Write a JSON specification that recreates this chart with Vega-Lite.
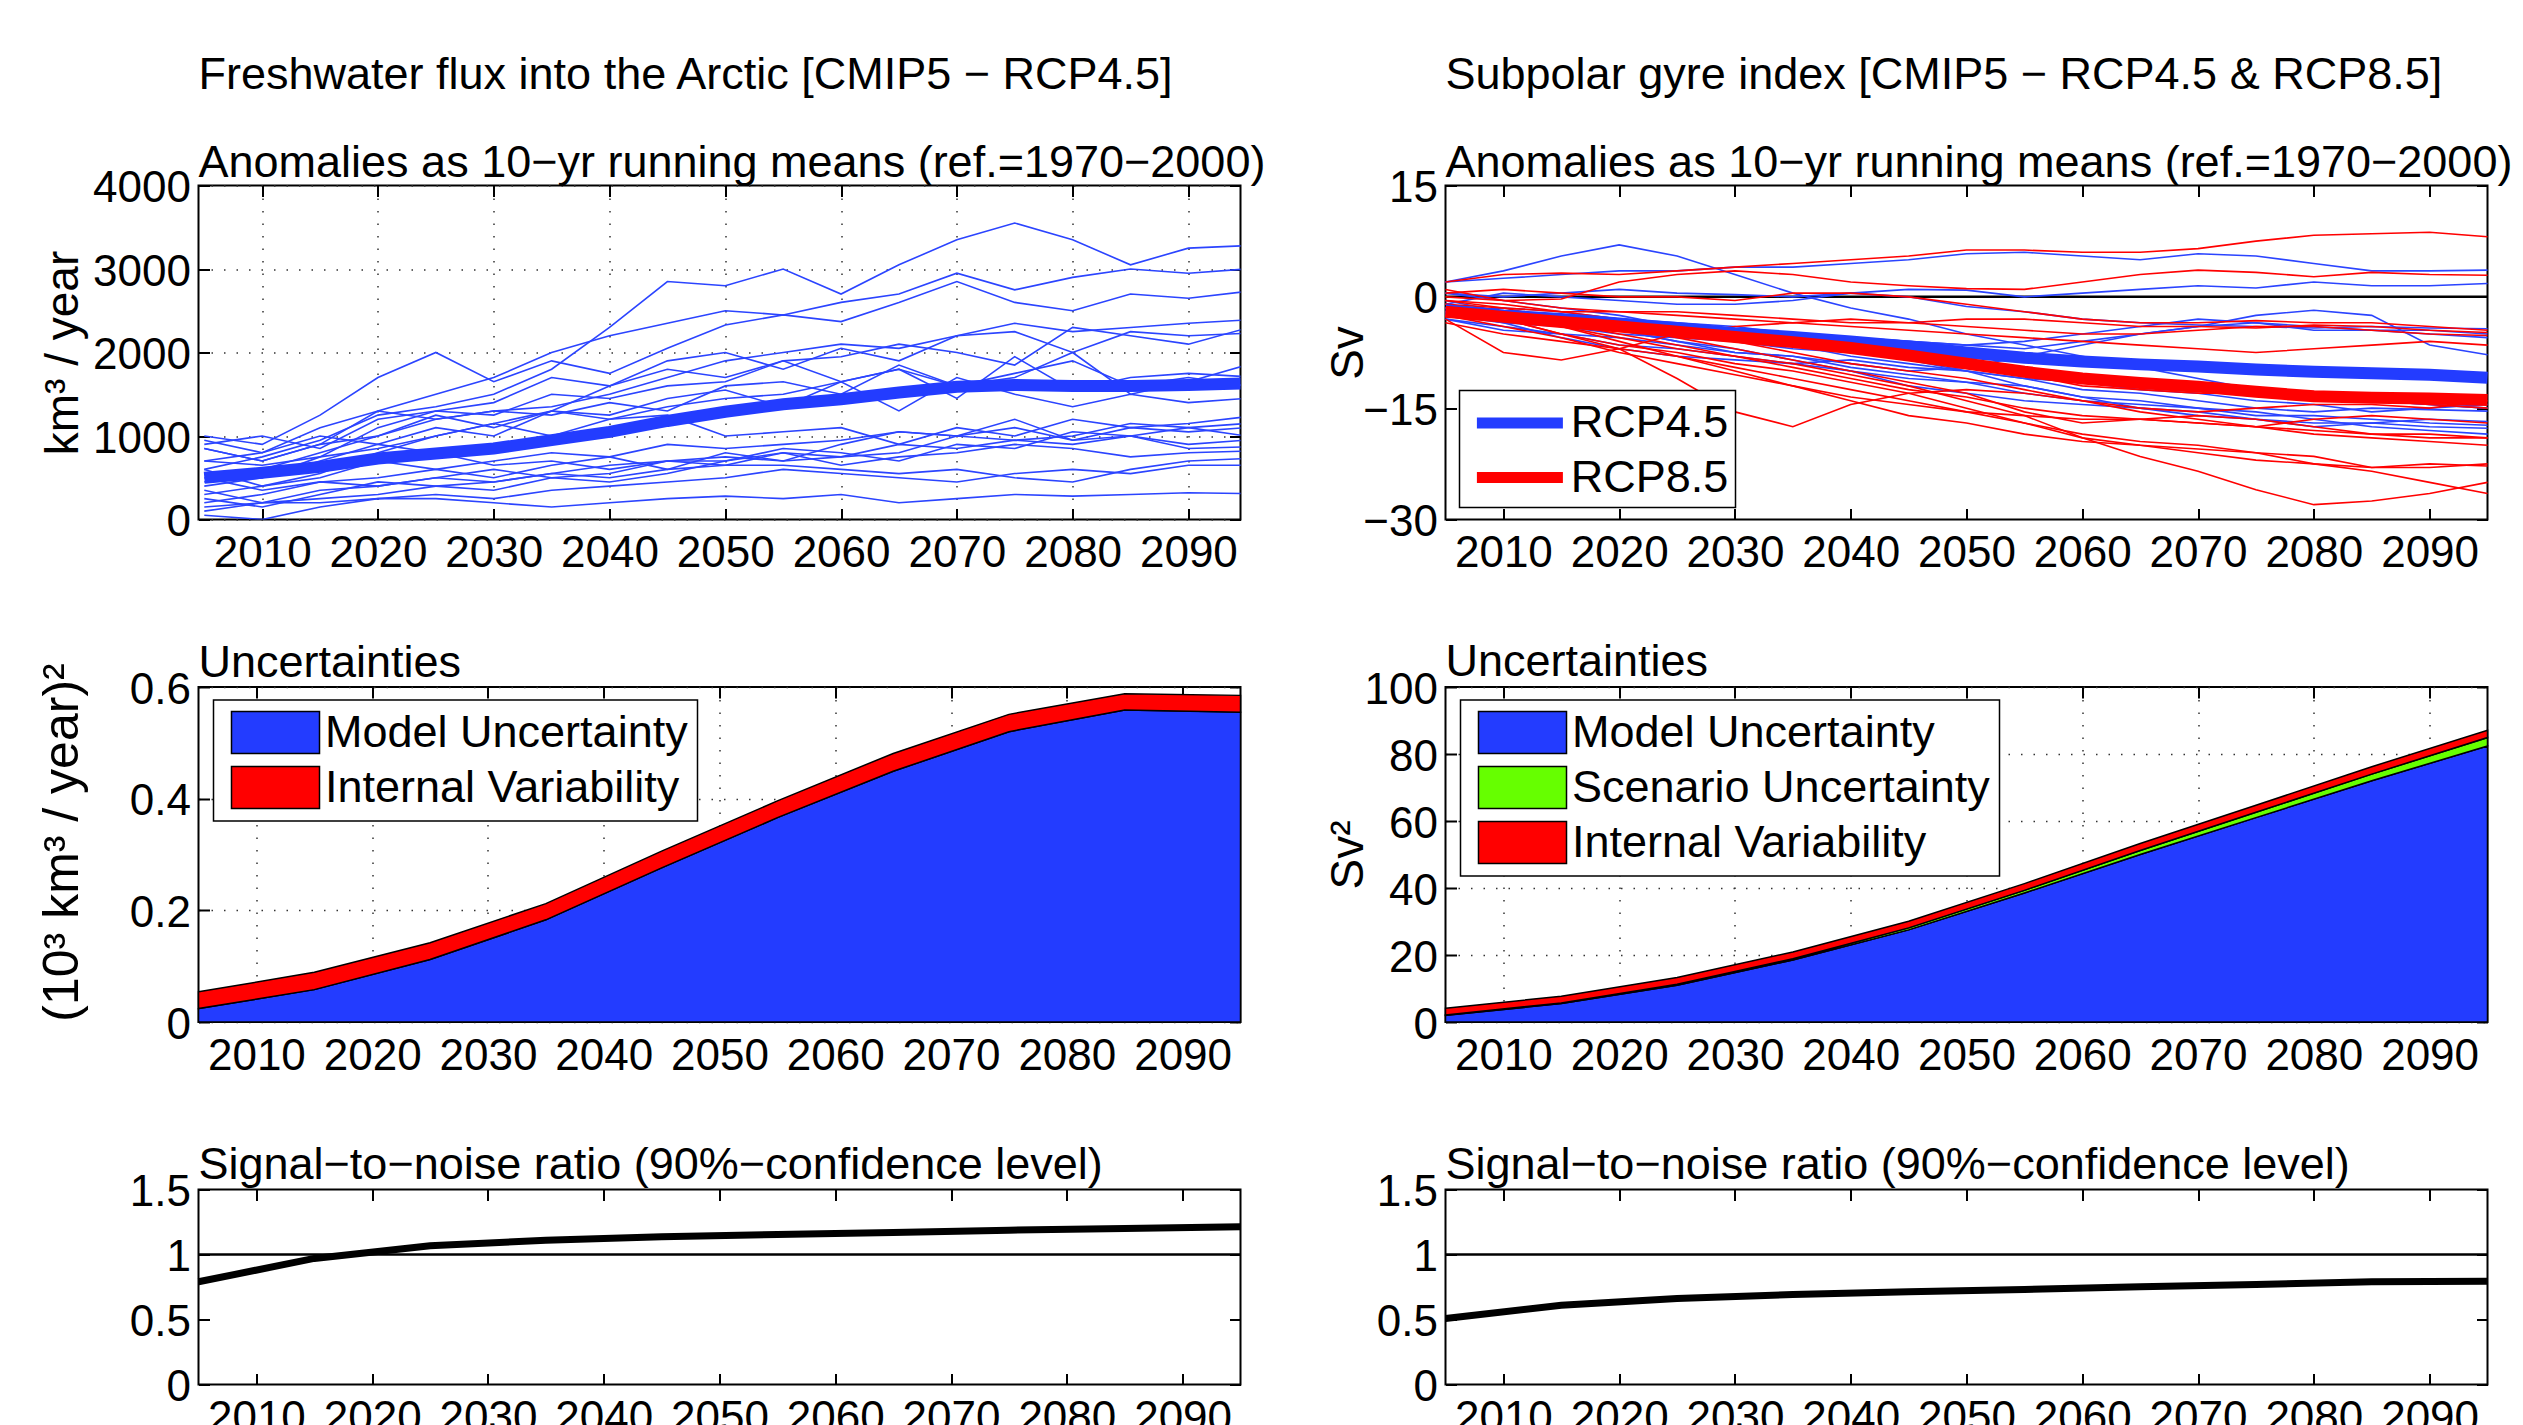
{
"$schema":"https://vega.github.io/schema/vega-lite/v6.json",
"background":"white",
"padding":{"left":36.5,"top":51.5,"right":0,"bottom":0},
"autosize":{"type":"pad"},
"columns":2,
"bounds":"flush",
"spacing":{"row":167.5,"column":205},
"resolve":{"scale":{"color":"independent"},"legend":{"color":"independent"}},
"config":{
 "font":"Liberation Sans",
 "view":{"stroke":"black","strokeWidth":2},
 "axis":{"labelFontSize":44,"labelColor":"black","titleFontSize":46,"titleFontWeight":"normal","titleColor":"black","domain":false,"tickColor":"black","tickWidth":2,"tickSize":-11,"grid":true,"gridColor":"#333333","gridWidth":1.5,"gridDash":[1.5,11],"gridOpacity":1,"labelFlush":false,"labelOverlap":false},
 "axisX":{"labelPadding":23},
 "axisY":{"labelPadding":19,"labelOffset":3},
 "title":{"fontSize":45,"fontWeight":"normal","color":"black","anchor":"start","frame":"group","subtitleFontSize":45,"subtitleColor":"black","subtitlePadding":42.5},
 "legend":{"labelFontSize":45,"labelColor":"black","labelLimit":2000,"strokeColor":"black","strokeWidth":1.5,"fillColor":"white"}
},
"datasets":{
"fw":[
{"m":"L1","t":2005,"v":600},{"m":"L1","t":2010,"v":750},{"m":"L1","t":2015,"v":950},{"m":"L1","t":2020,"v":1250},{"m":"L1","t":2025,"v":1350},{"m":"L1","t":2030,"v":1500},{"m":"L1","t":2035,"v":1800},{"m":"L1","t":2040,"v":2300},{"m":"L1","t":2045,"v":2850},{"m":"L1","t":2050,"v":2800},{"m":"L1","t":2055,"v":3000},{"m":"L1","t":2060,"v":2700},{"m":"L1","t":2065,"v":3050},{"m":"L1","t":2070,"v":3350},{"m":"L1","t":2075,"v":3550},{"m":"L1","t":2080,"v":3350},{"m":"L1","t":2085,"v":3050},{"m":"L1","t":2090,"v":3250},{"m":"L1","t":2095,"v":3280},
{"m":"L2","t":2005,"v":850},{"m":"L2","t":2010,"v":700},{"m":"L2","t":2015,"v":900},{"m":"L2","t":2020,"v":1300},{"m":"L2","t":2025,"v":1500},{"m":"L2","t":2030,"v":1700},{"m":"L2","t":2035,"v":2000},{"m":"L2","t":2040,"v":2200},{"m":"L2","t":2045,"v":2350},{"m":"L2","t":2050,"v":2500},{"m":"L2","t":2055,"v":2450},{"m":"L2","t":2060,"v":2600},{"m":"L2","t":2065,"v":2700},{"m":"L2","t":2070,"v":2950},{"m":"L2","t":2075,"v":2750},{"m":"L2","t":2080,"v":2900},{"m":"L2","t":2085,"v":3000},{"m":"L2","t":2090,"v":2950},{"m":"L2","t":2095,"v":3000},
{"m":"L3","t":2005,"v":1000},{"m":"L3","t":2010,"v":900},{"m":"L3","t":2015,"v":1250},{"m":"L3","t":2020,"v":1700},{"m":"L3","t":2025,"v":2000},{"m":"L3","t":2030,"v":1650},{"m":"L3","t":2035,"v":1900},{"m":"L3","t":2040,"v":1750},{"m":"L3","t":2045,"v":2050},{"m":"L3","t":2050,"v":2330},{"m":"L3","t":2055,"v":2450},{"m":"L3","t":2060,"v":2370},{"m":"L3","t":2065,"v":2600},{"m":"L3","t":2070,"v":2850},{"m":"L3","t":2075,"v":2600},{"m":"L3","t":2080,"v":2500},{"m":"L3","t":2085,"v":2700},{"m":"L3","t":2090,"v":2650},{"m":"L3","t":2095,"v":2730},
{"m":"L4","t":2005,"v":450},{"m":"L4","t":2010,"v":600},{"m":"L4","t":2015,"v":800},{"m":"L4","t":2020,"v":1000},{"m":"L4","t":2025,"v":1200},{"m":"L4","t":2030,"v":1300},{"m":"L4","t":2035,"v":1350},{"m":"L4","t":2040,"v":1500},{"m":"L4","t":2045,"v":1700},{"m":"L4","t":2050,"v":1900},{"m":"L4","t":2055,"v":2000},{"m":"L4","t":2060,"v":2100},{"m":"L4","t":2065,"v":2050},{"m":"L4","t":2070,"v":2200},{"m":"L4","t":2075,"v":2350},{"m":"L4","t":2080,"v":2250},{"m":"L4","t":2085,"v":2300},{"m":"L4","t":2090,"v":2350},{"m":"L4","t":2095,"v":2390},
{"m":"L5","t":2005,"v":700},{"m":"L5","t":2010,"v":650},{"m":"L5","t":2015,"v":750},{"m":"L5","t":2020,"v":1100},{"m":"L5","t":2025,"v":1300},{"m":"L5","t":2030,"v":1250},{"m":"L5","t":2035,"v":1500},{"m":"L5","t":2040,"v":1450},{"m":"L5","t":2045,"v":1600},{"m":"L5","t":2050,"v":1650},{"m":"L5","t":2055,"v":1900},{"m":"L5","t":2060,"v":1950},{"m":"L5","t":2065,"v":2100},{"m":"L5","t":2070,"v":2000},{"m":"L5","t":2075,"v":1850},{"m":"L5","t":2080,"v":2300},{"m":"L5","t":2085,"v":2200},{"m":"L5","t":2090,"v":2100},{"m":"L5","t":2095,"v":2290},
{"m":"L6","t":2005,"v":300},{"m":"L6","t":2010,"v":400},{"m":"L6","t":2015,"v":550},{"m":"L6","t":2020,"v":800},{"m":"L6","t":2025,"v":1000},{"m":"L6","t":2030,"v":1150},{"m":"L6","t":2035,"v":1300},{"m":"L6","t":2040,"v":1600},{"m":"L6","t":2045,"v":1900},{"m":"L6","t":2050,"v":2000},{"m":"L6","t":2055,"v":1800},{"m":"L6","t":2060,"v":2050},{"m":"L6","t":2065,"v":1900},{"m":"L6","t":2070,"v":2200},{"m":"L6","t":2075,"v":2250},{"m":"L6","t":2080,"v":2000},{"m":"L6","t":2085,"v":2250},{"m":"L6","t":2090,"v":2200},{"m":"L6","t":2095,"v":2230},
{"m":"L7","t":2005,"v":900},{"m":"L7","t":2010,"v":1000},{"m":"L7","t":2015,"v":850},{"m":"L7","t":2020,"v":1200},{"m":"L7","t":2025,"v":1300},{"m":"L7","t":2030,"v":1400},{"m":"L7","t":2035,"v":1700},{"m":"L7","t":2040,"v":1600},{"m":"L7","t":2045,"v":1800},{"m":"L7","t":2050,"v":1700},{"m":"L7","t":2055,"v":1900},{"m":"L7","t":2060,"v":1650},{"m":"L7","t":2065,"v":1800},{"m":"L7","t":2070,"v":1600},{"m":"L7","t":2075,"v":1700},{"m":"L7","t":2080,"v":2000},{"m":"L7","t":2085,"v":1500},{"m":"L7","t":2090,"v":1650},{"m":"L7","t":2095,"v":1850},
{"m":"L8","t":2005,"v":550},{"m":"L8","t":2010,"v":500},{"m":"L8","t":2015,"v":700},{"m":"L8","t":2020,"v":900},{"m":"L8","t":2025,"v":1100},{"m":"L8","t":2030,"v":1000},{"m":"L8","t":2035,"v":1300},{"m":"L8","t":2040,"v":1250},{"m":"L8","t":2045,"v":1450},{"m":"L8","t":2050,"v":1550},{"m":"L8","t":2055,"v":1350},{"m":"L8","t":2060,"v":1650},{"m":"L8","t":2065,"v":1800},{"m":"L8","t":2070,"v":1450},{"m":"L8","t":2075,"v":1950},{"m":"L8","t":2080,"v":1550},{"m":"L8","t":2085,"v":1700},{"m":"L8","t":2090,"v":1750},{"m":"L8","t":2095,"v":1710},
{"m":"L9","t":2005,"v":400},{"m":"L9","t":2010,"v":500},{"m":"L9","t":2015,"v":750},{"m":"L9","t":2020,"v":850},{"m":"L9","t":2025,"v":1000},{"m":"L9","t":2030,"v":1150},{"m":"L9","t":2035,"v":1000},{"m":"L9","t":2040,"v":1200},{"m":"L9","t":2045,"v":1350},{"m":"L9","t":2050,"v":1450},{"m":"L9","t":2055,"v":1500},{"m":"L9","t":2060,"v":1650},{"m":"L9","t":2065,"v":1300},{"m":"L9","t":2070,"v":1700},{"m":"L9","t":2075,"v":1500},{"m":"L9","t":2080,"v":1350},{"m":"L9","t":2085,"v":1500},{"m":"L9","t":2090,"v":1400},{"m":"L9","t":2095,"v":1450},
{"m":"L10","t":2005,"v":850},{"m":"L10","t":2010,"v":700},{"m":"L10","t":2015,"v":900},{"m":"L10","t":2020,"v":1000},{"m":"L10","t":2025,"v":1250},{"m":"L10","t":2030,"v":1100},{"m":"L10","t":2035,"v":1300},{"m":"L10","t":2040,"v":1200},{"m":"L10","t":2045,"v":1250},{"m":"L10","t":2050,"v":1000},{"m":"L10","t":2055,"v":1050},{"m":"L10","t":2060,"v":1100},{"m":"L10","t":2065,"v":900},{"m":"L10","t":2070,"v":1100},{"m":"L10","t":2075,"v":1000},{"m":"L10","t":2080,"v":1200},{"m":"L10","t":2085,"v":1100},{"m":"L10","t":2090,"v":1150},{"m":"L10","t":2095,"v":1230},
{"m":"L11","t":2005,"v":200},{"m":"L11","t":2010,"v":300},{"m":"L11","t":2015,"v":450},{"m":"L11","t":2020,"v":500},{"m":"L11","t":2025,"v":600},{"m":"L11","t":2030,"v":700},{"m":"L11","t":2035,"v":800},{"m":"L11","t":2040,"v":750},{"m":"L11","t":2045,"v":900},{"m":"L11","t":2050,"v":850},{"m":"L11","t":2055,"v":900},{"m":"L11","t":2060,"v":950},{"m":"L11","t":2065,"v":1050},{"m":"L11","t":2070,"v":1000},{"m":"L11","t":2075,"v":1200},{"m":"L11","t":2080,"v":950},{"m":"L11","t":2085,"v":1100},{"m":"L11","t":2090,"v":1050},{"m":"L11","t":2095,"v":1100},
{"m":"L12","t":2005,"v":600},{"m":"L12","t":2010,"v":400},{"m":"L12","t":2015,"v":500},{"m":"L12","t":2020,"v":700},{"m":"L12","t":2025,"v":600},{"m":"L12","t":2030,"v":500},{"m":"L12","t":2035,"v":650},{"m":"L12","t":2040,"v":750},{"m":"L12","t":2045,"v":600},{"m":"L12","t":2050,"v":800},{"m":"L12","t":2055,"v":700},{"m":"L12","t":2060,"v":900},{"m":"L12","t":2065,"v":1050},{"m":"L12","t":2070,"v":1000},{"m":"L12","t":2075,"v":1100},{"m":"L12","t":2080,"v":950},{"m":"L12","t":2085,"v":1000},{"m":"L12","t":2090,"v":900},{"m":"L12","t":2095,"v":950},
{"m":"L13","t":2005,"v":350},{"m":"L13","t":2010,"v":200},{"m":"L13","t":2015,"v":350},{"m":"L13","t":2020,"v":400},{"m":"L13","t":2025,"v":500},{"m":"L13","t":2030,"v":600},{"m":"L13","t":2035,"v":500},{"m":"L13","t":2040,"v":550},{"m":"L13","t":2045,"v":700},{"m":"L13","t":2050,"v":650},{"m":"L13","t":2055,"v":800},{"m":"L13","t":2060,"v":750},{"m":"L13","t":2065,"v":900},{"m":"L13","t":2070,"v":850},{"m":"L13","t":2075,"v":950},{"m":"L13","t":2080,"v":900},{"m":"L13","t":2085,"v":1000},{"m":"L13","t":2090,"v":850},{"m":"L13","t":2095,"v":870},
{"m":"L14","t":2005,"v":100},{"m":"L14","t":2010,"v":200},{"m":"L14","t":2015,"v":250},{"m":"L14","t":2020,"v":300},{"m":"L14","t":2025,"v":400},{"m":"L14","t":2030,"v":450},{"m":"L14","t":2035,"v":550},{"m":"L14","t":2040,"v":650},{"m":"L14","t":2045,"v":700},{"m":"L14","t":2050,"v":700},{"m":"L14","t":2055,"v":800},{"m":"L14","t":2060,"v":650},{"m":"L14","t":2065,"v":750},{"m":"L14","t":2070,"v":800},{"m":"L14","t":2075,"v":900},{"m":"L14","t":2080,"v":850},{"m":"L14","t":2085,"v":750},{"m":"L14","t":2090,"v":800},{"m":"L14","t":2095,"v":820},
{"m":"L15","t":2005,"v":500},{"m":"L15","t":2010,"v":350},{"m":"L15","t":2015,"v":450},{"m":"L15","t":2020,"v":400},{"m":"L15","t":2025,"v":500},{"m":"L15","t":2030,"v":450},{"m":"L15","t":2035,"v":550},{"m":"L15","t":2040,"v":500},{"m":"L15","t":2045,"v":600},{"m":"L15","t":2050,"v":650},{"m":"L15","t":2055,"v":650},{"m":"L15","t":2060,"v":600},{"m":"L15","t":2065,"v":550},{"m":"L15","t":2070,"v":600},{"m":"L15","t":2075,"v":500},{"m":"L15","t":2080,"v":450},{"m":"L15","t":2085,"v":600},{"m":"L15","t":2090,"v":700},{"m":"L15","t":2095,"v":730},
{"m":"L16","t":2005,"v":150},{"m":"L16","t":2010,"v":200},{"m":"L16","t":2015,"v":200},{"m":"L16","t":2020,"v":250},{"m":"L16","t":2025,"v":250},{"m":"L16","t":2030,"v":200},{"m":"L16","t":2035,"v":150},{"m":"L16","t":2040,"v":200},{"m":"L16","t":2045,"v":250},{"m":"L16","t":2050,"v":280},{"m":"L16","t":2055,"v":250},{"m":"L16","t":2060,"v":300},{"m":"L16","t":2065,"v":200},{"m":"L16","t":2070,"v":250},{"m":"L16","t":2075,"v":300},{"m":"L16","t":2080,"v":280},{"m":"L16","t":2085,"v":300},{"m":"L16","t":2090,"v":320},{"m":"L16","t":2095,"v":310},
{"m":"L17","t":2005,"v":950},{"m":"L17","t":2010,"v":800},{"m":"L17","t":2015,"v":1000},{"m":"L17","t":2020,"v":900},{"m":"L17","t":2025,"v":800},{"m":"L17","t":2030,"v":650},{"m":"L17","t":2035,"v":700},{"m":"L17","t":2040,"v":600},{"m":"L17","t":2045,"v":700},{"m":"L17","t":2050,"v":750},{"m":"L17","t":2055,"v":700},{"m":"L17","t":2060,"v":750},{"m":"L17","t":2065,"v":800},{"m":"L17","t":2070,"v":1000},{"m":"L17","t":2075,"v":950},{"m":"L17","t":2080,"v":1000},{"m":"L17","t":2085,"v":1150},{"m":"L17","t":2090,"v":1100},{"m":"L17","t":2095,"v":1000},
{"m":"L18","t":2005,"v":250},{"m":"L18","t":2010,"v":150},{"m":"L18","t":2015,"v":300},{"m":"L18","t":2020,"v":450},{"m":"L18","t":2025,"v":400},{"m":"L18","t":2030,"v":350},{"m":"L18","t":2035,"v":500},{"m":"L18","t":2040,"v":450},{"m":"L18","t":2045,"v":550},{"m":"L18","t":2050,"v":700},{"m":"L18","t":2055,"v":850},{"m":"L18","t":2060,"v":800},{"m":"L18","t":2065,"v":700},{"m":"L18","t":2070,"v":900},{"m":"L18","t":2075,"v":850},{"m":"L18","t":2080,"v":1050},{"m":"L18","t":2085,"v":1000},{"m":"L18","t":2090,"v":1100},{"m":"L18","t":2095,"v":1150},
{"m":"L19","t":2005,"v":50},{"m":"L19","t":2010,"v":0},{"m":"L19","t":2015,"v":150},{"m":"L19","t":2020,"v":250},{"m":"L19","t":2025,"v":300},{"m":"L19","t":2030,"v":250},{"m":"L19","t":2035,"v":350},{"m":"L19","t":2040,"v":400},{"m":"L19","t":2045,"v":450},{"m":"L19","t":2050,"v":500},{"m":"L19","t":2055,"v":600},{"m":"L19","t":2060,"v":550},{"m":"L19","t":2065,"v":500},{"m":"L19","t":2070,"v":450},{"m":"L19","t":2075,"v":550},{"m":"L19","t":2080,"v":600},{"m":"L19","t":2085,"v":550},{"m":"L19","t":2090,"v":650},{"m":"L19","t":2095,"v":650},
{"m":"L20","t":2005,"v":700},{"m":"L20","t":2010,"v":800},{"m":"L20","t":2015,"v":1100},{"m":"L20","t":2020,"v":1300},{"m":"L20","t":2025,"v":1200},{"m":"L20","t":2030,"v":1300},{"m":"L20","t":2035,"v":1250},{"m":"L20","t":2040,"v":1400},{"m":"L20","t":2045,"v":1300},{"m":"L20","t":2050,"v":1600},{"m":"L20","t":2055,"v":1650},{"m":"L20","t":2060,"v":1500},{"m":"L20","t":2065,"v":1850},{"m":"L20","t":2070,"v":1600},{"m":"L20","t":2075,"v":1750},{"m":"L20","t":2080,"v":1900},{"m":"L20","t":2085,"v":1600},{"m":"L20","t":2090,"v":1700},{"m":"L20","t":2095,"v":1600}
],
"fwm":[
{"t":2005,"v":500},{"t":2010,"v":560},{"t":2015,"v":630},{"t":2020,"v":730},{"t":2025,"v":790},{"t":2030,"v":850},{"t":2035,"v":950},{"t":2040,"v":1050},{"t":2045,"v":1180},{"t":2050,"v":1290},{"t":2055,"v":1380},{"t":2060,"v":1440},{"t":2065,"v":1520},{"t":2070,"v":1590},{"t":2075,"v":1610},{"t":2080,"v":1600},{"t":2085,"v":1600},{"t":2090,"v":1610},{"t":2095,"v":1630}
],
"spgB":[
{"m":"B1","t":2005,"v":2.0},{"m":"B1","t":2010,"v":3.5},{"m":"B1","t":2015,"v":5.5},{"m":"B1","t":2020,"v":7.0},{"m":"B1","t":2025,"v":5.5},{"m":"B1","t":2030,"v":3.0},{"m":"B1","t":2035,"v":0.5},{"m":"B1","t":2040,"v":-1.5},{"m":"B1","t":2045,"v":-3.0},{"m":"B1","t":2050,"v":-5.0},{"m":"B1","t":2055,"v":-6.5},{"m":"B1","t":2060,"v":-8.0},{"m":"B1","t":2065,"v":-9.5},{"m":"B1","t":2070,"v":-11.0},{"m":"B1","t":2075,"v":-12.5},{"m":"B1","t":2080,"v":-13.5},{"m":"B1","t":2085,"v":-14.0},{"m":"B1","t":2090,"v":-14.5},{"m":"B1","t":2095,"v":-15.0},
{"m":"B2","t":2005,"v":2.0},{"m":"B2","t":2010,"v":2.5},{"m":"B2","t":2015,"v":3.0},{"m":"B2","t":2020,"v":3.5},{"m":"B2","t":2025,"v":3.5},{"m":"B2","t":2030,"v":4.0},{"m":"B2","t":2035,"v":4.0},{"m":"B2","t":2040,"v":4.5},{"m":"B2","t":2045,"v":5.0},{"m":"B2","t":2050,"v":5.8},{"m":"B2","t":2055,"v":6.0},{"m":"B2","t":2060,"v":5.5},{"m":"B2","t":2065,"v":5.0},{"m":"B2","t":2070,"v":5.8},{"m":"B2","t":2075,"v":5.5},{"m":"B2","t":2080,"v":4.5},{"m":"B2","t":2085,"v":3.5},{"m":"B2","t":2090,"v":3.5},{"m":"B2","t":2095,"v":3.6},
{"m":"B3","t":2005,"v":0.5},{"m":"B3","t":2010,"v":0.0},{"m":"B3","t":2015,"v":0.5},{"m":"B3","t":2020,"v":1.0},{"m":"B3","t":2025,"v":0.5},{"m":"B3","t":2030,"v":0.3},{"m":"B3","t":2035,"v":0.0},{"m":"B3","t":2040,"v":0.5},{"m":"B3","t":2045,"v":1.0},{"m":"B3","t":2050,"v":0.9},{"m":"B3","t":2055,"v":0.0},{"m":"B3","t":2060,"v":0.5},{"m":"B3","t":2065,"v":1.0},{"m":"B3","t":2070,"v":1.5},{"m":"B3","t":2075,"v":1.2},{"m":"B3","t":2080,"v":2.0},{"m":"B3","t":2085,"v":1.5},{"m":"B3","t":2090,"v":1.5},{"m":"B3","t":2095,"v":1.8},
{"m":"B4","t":2005,"v":-1.0},{"m":"B4","t":2010,"v":0.5},{"m":"B4","t":2015,"v":0.0},{"m":"B4","t":2020,"v":-0.5},{"m":"B4","t":2025,"v":-1.0},{"m":"B4","t":2030,"v":-1.0},{"m":"B4","t":2035,"v":-0.5},{"m":"B4","t":2040,"v":0.5},{"m":"B4","t":2045,"v":0.0},{"m":"B4","t":2050,"v":-1.3},{"m":"B4","t":2055,"v":-2.0},{"m":"B4","t":2060,"v":-3.0},{"m":"B4","t":2065,"v":-3.5},{"m":"B4","t":2070,"v":-3.8},{"m":"B4","t":2075,"v":-4.0},{"m":"B4","t":2080,"v":-4.2},{"m":"B4","t":2085,"v":-4.0},{"m":"B4","t":2090,"v":-4.2},{"m":"B4","t":2095,"v":-4.3},
{"m":"B5","t":2005,"v":-2.0},{"m":"B5","t":2010,"v":-1.5},{"m":"B5","t":2015,"v":-2.0},{"m":"B5","t":2020,"v":-3.0},{"m":"B5","t":2025,"v":-3.5},{"m":"B5","t":2030,"v":-4.0},{"m":"B5","t":2035,"v":-5.0},{"m":"B5","t":2040,"v":-5.5},{"m":"B5","t":2045,"v":-6.0},{"m":"B5","t":2050,"v":-6.5},{"m":"B5","t":2055,"v":-7.0},{"m":"B5","t":2060,"v":-6.0},{"m":"B5","t":2065,"v":-5.0},{"m":"B5","t":2070,"v":-4.0},{"m":"B5","t":2075,"v":-2.5},{"m":"B5","t":2080,"v":-1.8},{"m":"B5","t":2085,"v":-2.5},{"m":"B5","t":2090,"v":-6.5},{"m":"B5","t":2095,"v":-7.8},
{"m":"B6","t":2005,"v":-3.0},{"m":"B6","t":2010,"v":-4.0},{"m":"B6","t":2015,"v":-5.0},{"m":"B6","t":2020,"v":-6.5},{"m":"B6","t":2025,"v":-7.0},{"m":"B6","t":2030,"v":-8.0},{"m":"B6","t":2035,"v":-9.0},{"m":"B6","t":2040,"v":-8.5},{"m":"B6","t":2045,"v":-9.5},{"m":"B6","t":2050,"v":-10.0},{"m":"B6","t":2055,"v":-11.0},{"m":"B6","t":2060,"v":-12.5},{"m":"B6","t":2065,"v":-13.0},{"m":"B6","t":2070,"v":-14.0},{"m":"B6","t":2075,"v":-15.0},{"m":"B6","t":2080,"v":-15.5},{"m":"B6","t":2085,"v":-15.0},{"m":"B6","t":2090,"v":-15.2},{"m":"B6","t":2095,"v":-15.4},
{"m":"B7","t":2005,"v":-2.5},{"m":"B7","t":2010,"v":-3.5},{"m":"B7","t":2015,"v":-5.5},{"m":"B7","t":2020,"v":-7.0},{"m":"B7","t":2025,"v":-8.0},{"m":"B7","t":2030,"v":-8.5},{"m":"B7","t":2035,"v":-9.0},{"m":"B7","t":2040,"v":-10.0},{"m":"B7","t":2045,"v":-11.0},{"m":"B7","t":2050,"v":-11.5},{"m":"B7","t":2055,"v":-12.0},{"m":"B7","t":2060,"v":-13.5},{"m":"B7","t":2065,"v":-15.0},{"m":"B7","t":2070,"v":-15.5},{"m":"B7","t":2075,"v":-16.5},{"m":"B7","t":2080,"v":-17.0},{"m":"B7","t":2085,"v":-17.0},{"m":"B7","t":2090,"v":-16.5},{"m":"B7","t":2095,"v":-16.8},
{"m":"B8","t":2005,"v":-1.5},{"m":"B8","t":2010,"v":-3.0},{"m":"B8","t":2015,"v":-4.0},{"m":"B8","t":2020,"v":-4.5},{"m":"B8","t":2025,"v":-6.0},{"m":"B8","t":2030,"v":-7.0},{"m":"B8","t":2035,"v":-8.5},{"m":"B8","t":2040,"v":-10.0},{"m":"B8","t":2045,"v":-12.0},{"m":"B8","t":2050,"v":-13.0},{"m":"B8","t":2055,"v":-14.0},{"m":"B8","t":2060,"v":-14.5},{"m":"B8","t":2065,"v":-15.0},{"m":"B8","t":2070,"v":-16.0},{"m":"B8","t":2075,"v":-16.5},{"m":"B8","t":2080,"v":-17.5},{"m":"B8","t":2085,"v":-17.0},{"m":"B8","t":2090,"v":-17.5},{"m":"B8","t":2095,"v":-17.7},
{"m":"B9","t":2005,"v":-0.5},{"m":"B9","t":2010,"v":-2.0},{"m":"B9","t":2015,"v":-3.0},{"m":"B9","t":2020,"v":-4.5},{"m":"B9","t":2025,"v":-6.0},{"m":"B9","t":2030,"v":-7.5},{"m":"B9","t":2035,"v":-8.0},{"m":"B9","t":2040,"v":-9.5},{"m":"B9","t":2045,"v":-10.5},{"m":"B9","t":2050,"v":-11.5},{"m":"B9","t":2055,"v":-13.0},{"m":"B9","t":2060,"v":-14.0},{"m":"B9","t":2065,"v":-14.5},{"m":"B9","t":2070,"v":-15.0},{"m":"B9","t":2075,"v":-15.5},{"m":"B9","t":2080,"v":-16.5},{"m":"B9","t":2085,"v":-17.5},{"m":"B9","t":2090,"v":-18.0},{"m":"B9","t":2095,"v":-18.5},
{"m":"B10","t":2005,"v":-3.0},{"m":"B10","t":2010,"v":-4.5},{"m":"B10","t":2015,"v":-5.0},{"m":"B10","t":2020,"v":-5.5},{"m":"B10","t":2025,"v":-6.5},{"m":"B10","t":2030,"v":-7.5},{"m":"B10","t":2035,"v":-8.0},{"m":"B10","t":2040,"v":-9.0},{"m":"B10","t":2045,"v":-10.0},{"m":"B10","t":2050,"v":-9.5},{"m":"B10","t":2055,"v":-8.0},{"m":"B10","t":2060,"v":-6.5},{"m":"B10","t":2065,"v":-5.0},{"m":"B10","t":2070,"v":-4.0},{"m":"B10","t":2075,"v":-3.5},{"m":"B10","t":2080,"v":-4.0},{"m":"B10","t":2085,"v":-4.5},{"m":"B10","t":2090,"v":-4.5},{"m":"B10","t":2095,"v":-5.0},
{"m":"B11","t":2005,"v":-2.0},{"m":"B11","t":2010,"v":-3.5},{"m":"B11","t":2015,"v":-4.0},{"m":"B11","t":2020,"v":-5.0},{"m":"B11","t":2025,"v":-5.5},{"m":"B11","t":2030,"v":-6.0},{"m":"B11","t":2035,"v":-7.0},{"m":"B11","t":2040,"v":-7.5},{"m":"B11","t":2045,"v":-8.5},{"m":"B11","t":2050,"v":-9.0},{"m":"B11","t":2055,"v":-10.5},{"m":"B11","t":2060,"v":-11.5},{"m":"B11","t":2065,"v":-12.5},{"m":"B11","t":2070,"v":-13.0},{"m":"B11","t":2075,"v":-14.0},{"m":"B11","t":2080,"v":-14.5},{"m":"B11","t":2085,"v":-15.5},{"m":"B11","t":2090,"v":-15.0},{"m":"B11","t":2095,"v":-14.5},
{"m":"B12","t":2005,"v":-1.0},{"m":"B12","t":2010,"v":-2.5},{"m":"B12","t":2015,"v":-3.5},{"m":"B12","t":2020,"v":-3.0},{"m":"B12","t":2025,"v":-4.0},{"m":"B12","t":2030,"v":-5.0},{"m":"B12","t":2035,"v":-6.5},{"m":"B12","t":2040,"v":-8.0},{"m":"B12","t":2045,"v":-9.0},{"m":"B12","t":2050,"v":-10.0},{"m":"B12","t":2055,"v":-11.0},{"m":"B12","t":2060,"v":-11.5},{"m":"B12","t":2065,"v":-12.0},{"m":"B12","t":2070,"v":-12.5},{"m":"B12","t":2075,"v":-13.0},{"m":"B12","t":2080,"v":-13.5},{"m":"B12","t":2085,"v":-14.0},{"m":"B12","t":2090,"v":-14.5},{"m":"B12","t":2095,"v":-15.0},
{"m":"B13","t":2005,"v":0.5},{"m":"B13","t":2010,"v":-0.5},{"m":"B13","t":2015,"v":-1.5},{"m":"B13","t":2020,"v":-2.5},{"m":"B13","t":2025,"v":-4.0},{"m":"B13","t":2030,"v":-5.5},{"m":"B13","t":2035,"v":-6.0},{"m":"B13","t":2040,"v":-7.0},{"m":"B13","t":2045,"v":-8.5},{"m":"B13","t":2050,"v":-10.0},{"m":"B13","t":2055,"v":-12.0},{"m":"B13","t":2060,"v":-13.5},{"m":"B13","t":2065,"v":-14.0},{"m":"B13","t":2070,"v":-15.0},{"m":"B13","t":2075,"v":-16.0},{"m":"B13","t":2080,"v":-16.0},{"m":"B13","t":2085,"v":-16.5},{"m":"B13","t":2090,"v":-17.0},{"m":"B13","t":2095,"v":-17.3},
{"m":"B14","t":2005,"v":-1.5},{"m":"B14","t":2010,"v":-2.0},{"m":"B14","t":2015,"v":-2.5},{"m":"B14","t":2020,"v":-3.5},{"m":"B14","t":2025,"v":-4.0},{"m":"B14","t":2030,"v":-4.5},{"m":"B14","t":2035,"v":-5.0},{"m":"B14","t":2040,"v":-5.5},{"m":"B14","t":2045,"v":-6.0},{"m":"B14","t":2050,"v":-6.5},{"m":"B14","t":2055,"v":-6.0},{"m":"B14","t":2060,"v":-5.0},{"m":"B14","t":2065,"v":-4.0},{"m":"B14","t":2070,"v":-3.0},{"m":"B14","t":2075,"v":-3.5},{"m":"B14","t":2080,"v":-4.5},{"m":"B14","t":2085,"v":-4.5},{"m":"B14","t":2090,"v":-5.0},{"m":"B14","t":2095,"v":-5.5}
],
"spgR":[
{"m":"R1","t":2005,"v":2.0},{"m":"R1","t":2010,"v":3.0},{"m":"R1","t":2015,"v":3.2},{"m":"R1","t":2020,"v":3.0},{"m":"R1","t":2025,"v":3.5},{"m":"R1","t":2030,"v":4.0},{"m":"R1","t":2035,"v":4.5},{"m":"R1","t":2040,"v":5.0},{"m":"R1","t":2045,"v":5.5},{"m":"R1","t":2050,"v":6.3},{"m":"R1","t":2055,"v":6.3},{"m":"R1","t":2060,"v":6.0},{"m":"R1","t":2065,"v":6.0},{"m":"R1","t":2070,"v":6.5},{"m":"R1","t":2075,"v":7.5},{"m":"R1","t":2080,"v":8.3},{"m":"R1","t":2085,"v":8.5},{"m":"R1","t":2090,"v":8.7},{"m":"R1","t":2095,"v":8.1},
{"m":"R2","t":2005,"v":1.0},{"m":"R2","t":2010,"v":-0.5},{"m":"R2","t":2015,"v":-0.3},{"m":"R2","t":2020,"v":2.0},{"m":"R2","t":2025,"v":3.0},{"m":"R2","t":2030,"v":3.5},{"m":"R2","t":2035,"v":3.0},{"m":"R2","t":2040,"v":2.0},{"m":"R2","t":2045,"v":1.5},{"m":"R2","t":2050,"v":1.1},{"m":"R2","t":2055,"v":1.0},{"m":"R2","t":2060,"v":2.0},{"m":"R2","t":2065,"v":3.0},{"m":"R2","t":2070,"v":3.6},{"m":"R2","t":2075,"v":3.3},{"m":"R2","t":2080,"v":2.7},{"m":"R2","t":2085,"v":3.3},{"m":"R2","t":2090,"v":3.0},{"m":"R2","t":2095,"v":2.9},
{"m":"R3","t":2005,"v":0.5},{"m":"R3","t":2010,"v":1.0},{"m":"R3","t":2015,"v":0.5},{"m":"R3","t":2020,"v":0.0},{"m":"R3","t":2025,"v":0.0},{"m":"R3","t":2030,"v":-0.5},{"m":"R3","t":2035,"v":0.5},{"m":"R3","t":2040,"v":0.5},{"m":"R3","t":2045,"v":0.0},{"m":"R3","t":2050,"v":-1.0},{"m":"R3","t":2055,"v":-2.0},{"m":"R3","t":2060,"v":-3.0},{"m":"R3","t":2065,"v":-3.5},{"m":"R3","t":2070,"v":-3.5},{"m":"R3","t":2075,"v":-3.2},{"m":"R3","t":2080,"v":-3.5},{"m":"R3","t":2085,"v":-3.5},{"m":"R3","t":2090,"v":-4.0},{"m":"R3","t":2095,"v":-4.5},
{"m":"R4","t":2005,"v":-1.0},{"m":"R4","t":2010,"v":-1.5},{"m":"R4","t":2015,"v":-2.0},{"m":"R4","t":2020,"v":-2.0},{"m":"R4","t":2025,"v":-2.5},{"m":"R4","t":2030,"v":-3.0},{"m":"R4","t":2035,"v":-3.5},{"m":"R4","t":2040,"v":-3.0},{"m":"R4","t":2045,"v":-3.5},{"m":"R4","t":2050,"v":-4.0},{"m":"R4","t":2055,"v":-4.5},{"m":"R4","t":2060,"v":-5.0},{"m":"R4","t":2065,"v":-5.0},{"m":"R4","t":2070,"v":-4.5},{"m":"R4","t":2075,"v":-4.0},{"m":"R4","t":2080,"v":-4.0},{"m":"R4","t":2085,"v":-4.5},{"m":"R4","t":2090,"v":-5.0},{"m":"R4","t":2095,"v":-5.2},
{"m":"R5","t":2005,"v":-3.0},{"m":"R5","t":2010,"v":-7.5},{"m":"R5","t":2015,"v":-8.5},{"m":"R5","t":2020,"v":-7.0},{"m":"R5","t":2025,"v":-5.0},{"m":"R5","t":2030,"v":-4.0},{"m":"R5","t":2035,"v":-3.5},{"m":"R5","t":2040,"v":-4.0},{"m":"R5","t":2045,"v":-4.5},{"m":"R5","t":2050,"v":-5.0},{"m":"R5","t":2055,"v":-5.5},{"m":"R5","t":2060,"v":-6.0},{"m":"R5","t":2065,"v":-6.5},{"m":"R5","t":2070,"v":-7.0},{"m":"R5","t":2075,"v":-7.5},{"m":"R5","t":2080,"v":-7.0},{"m":"R5","t":2085,"v":-6.5},{"m":"R5","t":2090,"v":-6.0},{"m":"R5","t":2095,"v":-6.5},
{"m":"R6","t":2005,"v":-1.5},{"m":"R6","t":2010,"v":-3.0},{"m":"R6","t":2015,"v":-5.0},{"m":"R6","t":2020,"v":-7.0},{"m":"R6","t":2025,"v":-11.0},{"m":"R6","t":2030,"v":-15.5},{"m":"R6","t":2035,"v":-17.5},{"m":"R6","t":2040,"v":-14.5},{"m":"R6","t":2045,"v":-13.0},{"m":"R6","t":2050,"v":-12.5},{"m":"R6","t":2055,"v":-13.0},{"m":"R6","t":2060,"v":-14.0},{"m":"R6","t":2065,"v":-15.5},{"m":"R6","t":2070,"v":-16.5},{"m":"R6","t":2075,"v":-17.5},{"m":"R6","t":2080,"v":-18.0},{"m":"R6","t":2085,"v":-18.5},{"m":"R6","t":2090,"v":-19.0},{"m":"R6","t":2095,"v":-19.0},
{"m":"R7","t":2005,"v":-2.0},{"m":"R7","t":2010,"v":-3.0},{"m":"R7","t":2015,"v":-4.0},{"m":"R7","t":2020,"v":-5.5},{"m":"R7","t":2025,"v":-7.0},{"m":"R7","t":2030,"v":-8.0},{"m":"R7","t":2035,"v":-9.0},{"m":"R7","t":2040,"v":-10.5},{"m":"R7","t":2045,"v":-12.0},{"m":"R7","t":2050,"v":-14.0},{"m":"R7","t":2055,"v":-16.0},{"m":"R7","t":2060,"v":-19.0},{"m":"R7","t":2065,"v":-21.5},{"m":"R7","t":2070,"v":-23.5},{"m":"R7","t":2075,"v":-26.0},{"m":"R7","t":2080,"v":-28.0},{"m":"R7","t":2085,"v":-27.5},{"m":"R7","t":2090,"v":-26.5},{"m":"R7","t":2095,"v":-25.0},
{"m":"R8","t":2005,"v":-1.5},{"m":"R8","t":2010,"v":-3.0},{"m":"R8","t":2015,"v":-5.0},{"m":"R8","t":2020,"v":-6.5},{"m":"R8","t":2025,"v":-7.5},{"m":"R8","t":2030,"v":-9.0},{"m":"R8","t":2035,"v":-10.0},{"m":"R8","t":2040,"v":-11.5},{"m":"R8","t":2045,"v":-13.0},{"m":"R8","t":2050,"v":-15.0},{"m":"R8","t":2055,"v":-17.0},{"m":"R8","t":2060,"v":-19.0},{"m":"R8","t":2065,"v":-20.0},{"m":"R8","t":2070,"v":-20.5},{"m":"R8","t":2075,"v":-21.0},{"m":"R8","t":2080,"v":-21.5},{"m":"R8","t":2085,"v":-23.0},{"m":"R8","t":2090,"v":-23.0},{"m":"R8","t":2095,"v":-22.5},
{"m":"R9","t":2005,"v":-2.5},{"m":"R9","t":2010,"v":-4.0},{"m":"R9","t":2015,"v":-5.5},{"m":"R9","t":2020,"v":-7.5},{"m":"R9","t":2025,"v":-9.0},{"m":"R9","t":2030,"v":-10.5},{"m":"R9","t":2035,"v":-12.0},{"m":"R9","t":2040,"v":-14.0},{"m":"R9","t":2045,"v":-16.0},{"m":"R9","t":2050,"v":-17.0},{"m":"R9","t":2055,"v":-18.5},{"m":"R9","t":2060,"v":-19.5},{"m":"R9","t":2065,"v":-20.0},{"m":"R9","t":2070,"v":-21.0},{"m":"R9","t":2075,"v":-22.0},{"m":"R9","t":2080,"v":-22.5},{"m":"R9","t":2085,"v":-23.5},{"m":"R9","t":2090,"v":-25.0},{"m":"R9","t":2095,"v":-26.5},
{"m":"R10","t":2005,"v":-1.0},{"m":"R10","t":2010,"v":-2.0},{"m":"R10","t":2015,"v":-3.5},{"m":"R10","t":2020,"v":-5.0},{"m":"R10","t":2025,"v":-6.5},{"m":"R10","t":2030,"v":-8.0},{"m":"R10","t":2035,"v":-9.5},{"m":"R10","t":2040,"v":-11.0},{"m":"R10","t":2045,"v":-12.5},{"m":"R10","t":2050,"v":-13.5},{"m":"R10","t":2055,"v":-15.0},{"m":"R10","t":2060,"v":-16.0},{"m":"R10","t":2065,"v":-16.5},{"m":"R10","t":2070,"v":-17.0},{"m":"R10","t":2075,"v":-17.5},{"m":"R10","t":2080,"v":-18.5},{"m":"R10","t":2085,"v":-19.0},{"m":"R10","t":2090,"v":-19.5},{"m":"R10","t":2095,"v":-20.0},
{"m":"R11","t":2005,"v":-0.5},{"m":"R11","t":2010,"v":-1.5},{"m":"R11","t":2015,"v":-3.0},{"m":"R11","t":2020,"v":-4.0},{"m":"R11","t":2025,"v":-5.5},{"m":"R11","t":2030,"v":-7.0},{"m":"R11","t":2035,"v":-8.5},{"m":"R11","t":2040,"v":-10.0},{"m":"R11","t":2045,"v":-11.5},{"m":"R11","t":2050,"v":-13.0},{"m":"R11","t":2055,"v":-15.5},{"m":"R11","t":2060,"v":-17.0},{"m":"R11","t":2065,"v":-16.5},{"m":"R11","t":2070,"v":-16.0},{"m":"R11","t":2075,"v":-16.5},{"m":"R11","t":2080,"v":-17.5},{"m":"R11","t":2085,"v":-18.5},{"m":"R11","t":2090,"v":-18.5},{"m":"R11","t":2095,"v":-19.0},
{"m":"R12","t":2005,"v":-2.0},{"m":"R12","t":2010,"v":-2.5},{"m":"R12","t":2015,"v":-3.0},{"m":"R12","t":2020,"v":-4.0},{"m":"R12","t":2025,"v":-5.0},{"m":"R12","t":2030,"v":-6.0},{"m":"R12","t":2035,"v":-7.5},{"m":"R12","t":2040,"v":-9.0},{"m":"R12","t":2045,"v":-10.0},{"m":"R12","t":2050,"v":-11.0},{"m":"R12","t":2055,"v":-12.5},{"m":"R12","t":2060,"v":-14.0},{"m":"R12","t":2065,"v":-15.0},{"m":"R12","t":2070,"v":-15.5},{"m":"R12","t":2075,"v":-15.0},{"m":"R12","t":2080,"v":-14.5},{"m":"R12","t":2085,"v":-14.5},{"m":"R12","t":2090,"v":-15.0},{"m":"R12","t":2095,"v":-14.0},
{"m":"R13","t":2005,"v":0.0},{"m":"R13","t":2010,"v":-0.5},{"m":"R13","t":2015,"v":-1.5},{"m":"R13","t":2020,"v":-2.0},{"m":"R13","t":2025,"v":-2.0},{"m":"R13","t":2030,"v":-2.5},{"m":"R13","t":2035,"v":-3.0},{"m":"R13","t":2040,"v":-3.5},{"m":"R13","t":2045,"v":-3.5},{"m":"R13","t":2050,"v":-3.0},{"m":"R13","t":2055,"v":-3.0},{"m":"R13","t":2060,"v":-3.5},{"m":"R13","t":2065,"v":-4.0},{"m":"R13","t":2070,"v":-4.0},{"m":"R13","t":2075,"v":-4.2},{"m":"R13","t":2080,"v":-3.8},{"m":"R13","t":2085,"v":-4.0},{"m":"R13","t":2090,"v":-4.5},{"m":"R13","t":2095,"v":-4.8},
{"m":"R14","t":2005,"v":-3.5},{"m":"R14","t":2010,"v":-5.0},{"m":"R14","t":2015,"v":-6.0},{"m":"R14","t":2020,"v":-7.0},{"m":"R14","t":2025,"v":-8.0},{"m":"R14","t":2030,"v":-9.5},{"m":"R14","t":2035,"v":-11.0},{"m":"R14","t":2040,"v":-12.5},{"m":"R14","t":2045,"v":-14.0},{"m":"R14","t":2050,"v":-15.5},{"m":"R14","t":2055,"v":-16.0},{"m":"R14","t":2060,"v":-16.5},{"m":"R14","t":2065,"v":-16.5},{"m":"R14","t":2070,"v":-17.0},{"m":"R14","t":2075,"v":-17.5},{"m":"R14","t":2080,"v":-16.5},{"m":"R14","t":2085,"v":-16.0},{"m":"R14","t":2090,"v":-16.5},{"m":"R14","t":2095,"v":-17.0},
{"m":"R15","t":2005,"v":-1.0},{"m":"R15","t":2010,"v":-2.0},{"m":"R15","t":2015,"v":-4.0},{"m":"R15","t":2020,"v":-6.0},{"m":"R15","t":2025,"v":-8.0},{"m":"R15","t":2030,"v":-10.0},{"m":"R15","t":2035,"v":-12.0},{"m":"R15","t":2040,"v":-13.5},{"m":"R15","t":2045,"v":-14.5},{"m":"R15","t":2050,"v":-15.5},{"m":"R15","t":2055,"v":-17.0},{"m":"R15","t":2060,"v":-18.5},{"m":"R15","t":2065,"v":-19.5},{"m":"R15","t":2070,"v":-20.0},{"m":"R15","t":2075,"v":-21.0},{"m":"R15","t":2080,"v":-22.5},{"m":"R15","t":2085,"v":-23.0},{"m":"R15","t":2090,"v":-22.5},{"m":"R15","t":2095,"v":-22.8},
{"m":"R16","t":2005,"v":-0.5},{"m":"R16","t":2010,"v":-1.0},{"m":"R16","t":2015,"v":-2.0},{"m":"R16","t":2020,"v":-3.0},{"m":"R16","t":2025,"v":-4.0},{"m":"R16","t":2030,"v":-5.0},{"m":"R16","t":2035,"v":-5.5},{"m":"R16","t":2040,"v":-6.0},{"m":"R16","t":2045,"v":-7.5},{"m":"R16","t":2050,"v":-9.0},{"m":"R16","t":2055,"v":-10.5},{"m":"R16","t":2060,"v":-12.0},{"m":"R16","t":2065,"v":-12.5},{"m":"R16","t":2070,"v":-13.0},{"m":"R16","t":2075,"v":-13.0},{"m":"R16","t":2080,"v":-13.5},{"m":"R16","t":2085,"v":-14.0},{"m":"R16","t":2090,"v":-14.5},{"m":"R16","t":2095,"v":-15.0}
],
"spgm":[
{"s":"RCP4.5","t":2005,"v":-1.8},{"s":"RCP4.5","t":2010,"v":-2.5},{"s":"RCP4.5","t":2015,"v":-3.0},{"s":"RCP4.5","t":2020,"v":-3.6},{"s":"RCP4.5","t":2025,"v":-4.2},{"s":"RCP4.5","t":2030,"v":-4.9},{"s":"RCP4.5","t":2035,"v":-5.4},{"s":"RCP4.5","t":2040,"v":-6.0},{"s":"RCP4.5","t":2045,"v":-6.7},{"s":"RCP4.5","t":2050,"v":-7.5},{"s":"RCP4.5","t":2055,"v":-8.2},{"s":"RCP4.5","t":2060,"v":-8.7},{"s":"RCP4.5","t":2065,"v":-9.1},{"s":"RCP4.5","t":2070,"v":-9.4},{"s":"RCP4.5","t":2075,"v":-9.8},{"s":"RCP4.5","t":2080,"v":-10.1},{"s":"RCP4.5","t":2085,"v":-10.3},{"s":"RCP4.5","t":2090,"v":-10.5},{"s":"RCP4.5","t":2095,"v":-10.9},
{"s":"RCP8.5","t":2005,"v":-2.0},{"s":"RCP8.5","t":2010,"v":-2.7},{"s":"RCP8.5","t":2015,"v":-3.4},{"s":"RCP8.5","t":2020,"v":-4.0},{"s":"RCP8.5","t":2025,"v":-4.7},{"s":"RCP8.5","t":2030,"v":-5.4},{"s":"RCP8.5","t":2035,"v":-6.1},{"s":"RCP8.5","t":2040,"v":-6.9},{"s":"RCP8.5","t":2045,"v":-7.9},{"s":"RCP8.5","t":2050,"v":-9.0},{"s":"RCP8.5","t":2055,"v":-10.1},{"s":"RCP8.5","t":2060,"v":-11.0},{"s":"RCP8.5","t":2065,"v":-11.6},{"s":"RCP8.5","t":2070,"v":-12.1},{"s":"RCP8.5","t":2075,"v":-12.8},{"s":"RCP8.5","t":2080,"v":-13.4},{"s":"RCP8.5","t":2085,"v":-13.6},{"s":"RCP8.5","t":2090,"v":-13.7},{"s":"RCP8.5","t":2095,"v":-13.9}
],
"uncL":[
{"c":"Model Uncertainty","t":2005,"lo":0,"hi":0.024},{"c":"Model Uncertainty","t":2015,"lo":0,"hi":0.058},{"c":"Model Uncertainty","t":2025,"lo":0,"hi":0.112},{"c":"Model Uncertainty","t":2035,"lo":0,"hi":0.183},{"c":"Model Uncertainty","t":2045,"lo":0,"hi":0.276},{"c":"Model Uncertainty","t":2055,"lo":0,"hi":0.366},{"c":"Model Uncertainty","t":2065,"lo":0,"hi":0.449},{"c":"Model Uncertainty","t":2075,"lo":0,"hi":0.52},{"c":"Model Uncertainty","t":2085,"lo":0,"hi":0.559},{"c":"Model Uncertainty","t":2095,"lo":0,"hi":0.555},
{"c":"Internal Variability","t":2005,"lo":0.024,"hi":0.054},{"c":"Internal Variability","t":2015,"lo":0.058,"hi":0.089},{"c":"Internal Variability","t":2025,"lo":0.112,"hi":0.142},{"c":"Internal Variability","t":2035,"lo":0.183,"hi":0.212},{"c":"Internal Variability","t":2045,"lo":0.276,"hi":0.306},{"c":"Internal Variability","t":2055,"lo":0.366,"hi":0.396},{"c":"Internal Variability","t":2065,"lo":0.449,"hi":0.481},{"c":"Internal Variability","t":2075,"lo":0.52,"hi":0.551},{"c":"Internal Variability","t":2085,"lo":0.559,"hi":0.588},{"c":"Internal Variability","t":2095,"lo":0.555,"hi":0.585}
],
"uncR":[
{"c":"Model Uncertainty","t":2005,"lo":0,"hi":2.0},{"c":"Model Uncertainty","t":2015,"lo":0,"hi":5.5},{"c":"Model Uncertainty","t":2025,"lo":0,"hi":11.0},{"c":"Model Uncertainty","t":2035,"lo":0,"hi":18.5},{"c":"Model Uncertainty","t":2045,"lo":0,"hi":27.5},{"c":"Model Uncertainty","t":2055,"lo":0,"hi":38.5},{"c":"Model Uncertainty","t":2065,"lo":0,"hi":50.0},{"c":"Model Uncertainty","t":2075,"lo":0,"hi":61.0},{"c":"Model Uncertainty","t":2085,"lo":0,"hi":72.0},{"c":"Model Uncertainty","t":2095,"lo":0,"hi":82.4},
{"c":"Scenario Uncertainty","t":2005,"lo":2.0,"hi":2.1},{"c":"Scenario Uncertainty","t":2015,"lo":5.5,"hi":5.7},{"c":"Scenario Uncertainty","t":2025,"lo":11.0,"hi":11.3},{"c":"Scenario Uncertainty","t":2035,"lo":18.5,"hi":18.9},{"c":"Scenario Uncertainty","t":2045,"lo":27.5,"hi":28.1},{"c":"Scenario Uncertainty","t":2055,"lo":38.5,"hi":39.3},{"c":"Scenario Uncertainty","t":2065,"lo":50.0,"hi":51.2},{"c":"Scenario Uncertainty","t":2075,"lo":61.0,"hi":62.6},{"c":"Scenario Uncertainty","t":2085,"lo":72.0,"hi":74.0},{"c":"Scenario Uncertainty","t":2095,"lo":82.4,"hi":84.9},
{"c":"Internal Variability","t":2005,"lo":2.1,"hi":4.1},{"c":"Internal Variability","t":2015,"lo":5.7,"hi":7.7},{"c":"Internal Variability","t":2025,"lo":11.3,"hi":13.3},{"c":"Internal Variability","t":2035,"lo":18.9,"hi":20.9},{"c":"Internal Variability","t":2045,"lo":28.1,"hi":30.1},{"c":"Internal Variability","t":2055,"lo":39.3,"hi":41.3},{"c":"Internal Variability","t":2065,"lo":51.2,"hi":53.3},{"c":"Internal Variability","t":2075,"lo":62.6,"hi":64.7},{"c":"Internal Variability","t":2085,"lo":74.0,"hi":76.2},{"c":"Internal Variability","t":2095,"lo":84.9,"hi":87.1}
],
"snrL":[
{"t":2005,"v":0.79},{"t":2015,"v":0.97},{"t":2025,"v":1.067},{"t":2035,"v":1.11},{"t":2045,"v":1.136},{"t":2055,"v":1.154},{"t":2065,"v":1.17},{"t":2075,"v":1.187},{"t":2085,"v":1.2},{"t":2095,"v":1.213}
],
"snrR":[
{"t":2005,"v":0.508},{"t":2015,"v":0.61},{"t":2025,"v":0.662},{"t":2035,"v":0.692},{"t":2045,"v":0.713},{"t":2055,"v":0.731},{"t":2065,"v":0.751},{"t":2075,"v":0.769},{"t":2085,"v":0.79},{"t":2095,"v":0.795}
]
},
"concat":[
{
 "width":1042,"height":334,
 "title":{"text":"Freshwater flux into the Arctic [CMIP5 − RCP4.5]","subtitle":"Anomalies as 10−yr running means (ref.=1970−2000)","offset":-19},
 "layer":[
  {"data":{"name":"fw"},"mark":{"type":"line","color":"#2B44FF","strokeWidth":1.6,"clip":true},
   "encoding":{
    "x":{"field":"t","type":"quantitative","scale":{"domain":[2004.5,2094.5],"nice":false,"zero":false},"axis":{"values":[2010,2020,2030,2040,2050,2060,2070,2080,2090],"format":"d","title":null}},
    "y":{"field":"v","type":"quantitative","scale":{"domain":[0,4000],"nice":false},"axis":{"values":[0,1000,2000,3000,4000],"format":"d","title":"km³ / year","titleX":-111}},
    "detail":{"field":"m","type":"nominal"}}},
  {"data":{"name":"fwm"},"mark":{"type":"line","color":"#233CFF","strokeWidth":12,"clip":true},
   "encoding":{
    "x":{"field":"t","type":"quantitative","scale":{"domain":[2004.5,2094.5],"nice":false,"zero":false},"axis":{"orient":"top","values":[2010,2020,2030,2040,2050,2060,2070,2080,2090],"labels":false,"grid":false,"title":null}},
    "y":{"field":"v","type":"quantitative","scale":{"domain":[0,4000],"nice":false},"axis":{"orient":"right","values":[0,1000,2000,3000,4000],"labels":false,"grid":false,"title":null}}}}
 ],
 "resolve":{"axis":{"x":"independent","y":"independent"}}
},
{
 "width":1042,"height":334,
 "title":{"text":"Subpolar gyre index [CMIP5 − RCP4.5 & RCP8.5]","subtitle":"Anomalies as 10−yr running means (ref.=1970−2000)","offset":-19},
 "layer":[
  {"data":{"values":[{}]},"mark":{"type":"rule","color":"black","strokeWidth":2.5},
   "encoding":{
    "x":{"datum":2005,"type":"quantitative","scale":{"domain":[2005,2095],"nice":false,"zero":false},"axis":{"orient":"top","values":[2010,2020,2030,2040,2050,2060,2070,2080,2090],"labels":false,"grid":false,"title":null}},
    "x2":{"datum":2095},
    "y":{"datum":0,"type":"quantitative","scale":{"domain":[-30,15],"nice":false,"zero":false},"axis":{"orient":"right","values":[-30,-15,0,15],"labels":false,"grid":false,"title":null}}}},
  {"data":{"name":"spgB"},"mark":{"type":"line","color":"#2B44FF","strokeWidth":1.6},
   "encoding":{
    "x":{"field":"t","type":"quantitative","scale":{"domain":[2005,2095],"nice":false,"zero":false},"axis":{"values":[2010,2020,2030,2040,2050,2060,2070,2080,2090],"format":"d","title":null}},
    "y":{"field":"v","type":"quantitative","scale":{"domain":[-30,15],"nice":false,"zero":false},"axis":{"values":[-30,-15,0,15],"format":"d","title":"Sv","titleX":-73}},
    "detail":{"field":"m","type":"nominal"}}},
  {"data":{"name":"spgR"},"mark":{"type":"line","color":"#FF0000","strokeWidth":1.6},
   "encoding":{
    "x":{"field":"t","type":"quantitative","scale":{"domain":[2005,2095],"nice":false,"zero":false},"axis":null},
    "y":{"field":"v","type":"quantitative","scale":{"domain":[-30,15],"nice":false,"zero":false},"axis":null},
    "detail":{"field":"m","type":"nominal"}}},
  {"data":{"name":"spgm"},"mark":{"type":"line","strokeWidth":12},
   "encoding":{
    "x":{"field":"t","type":"quantitative","scale":{"domain":[2005,2095],"nice":false,"zero":false},"axis":null},
    "y":{"field":"v","type":"quantitative","scale":{"domain":[-30,15],"nice":false,"zero":false},"axis":null},
    "color":{"field":"s","type":"nominal","scale":{"domain":["RCP4.5","RCP8.5"],"range":["#233CFF","#FF0000"]},
     "legend":{"orient":"none","legendX":14,"legendY":205,"title":null,"symbolType":"M-2.15,0H2.15","symbolSize":1600,"symbolStrokeWidth":11,"symbolOffset":27.9,"rowPadding":5.5,"padding":7,"labelOffset":25.4,"labelFontSize":45}}}}
 ],
 "resolve":{"axis":{"x":"independent","y":"independent"}}
},
{
 "width":1042,"height":335,
 "title":{"text":"Uncertainties","offset":-23},
 "layer":[
  {"data":{"name":"uncL"},"mark":{"type":"area","stroke":"black","strokeWidth":1.5,"opacity":1},
   "encoding":{
    "x":{"field":"t","type":"quantitative","scale":{"domain":[2005,2095],"nice":false,"zero":false},"axis":{"values":[2010,2020,2030,2040,2050,2060,2070,2080,2090],"format":"d","title":null}},
    "y":{"field":"hi","type":"quantitative","stack":null,"scale":{"domain":[0,0.6],"nice":false},"axis":{"values":[0,0.2,0.4,0.6],"format":"~g","title":"(10³ km³ / year)²","titleX":-111,"titleY":155,"titleFontSize":50}},
    "y2":{"field":"lo"},
    "color":{"field":"c","type":"nominal","scale":{"domain":["Model Uncertainty","Internal Variability"],"range":["#233CFF","#FF0000"]},
     "legend":{"orient":"none","legendX":15,"legendY":13,"title":null,"symbolType":"M-1.956,-0.933H1.956V0.933H-1.956Z","symbolSize":2025,"symbolStrokeColor":"black","symbolStrokeWidth":1.5,"symbolOpacity":1,"symbolOffset":29.5,"rowPadding":6,"padding":9,"labelOffset":26,"labelFontSize":45}}}},
  {"data":{"values":[{}]},"mark":{"type":"rule","opacity":0},
   "encoding":{
    "x":{"datum":2005,"type":"quantitative","scale":{"domain":[2005,2095],"nice":false,"zero":false},"axis":{"orient":"top","values":[2010,2020,2030,2040,2050,2060,2070,2080,2090],"labels":false,"grid":false,"title":null}},
    "x2":{"datum":2095},
    "y":{"datum":0,"type":"quantitative","scale":{"domain":[0,0.6],"nice":false},"axis":{"orient":"right","values":[0,0.2,0.4,0.6],"labels":false,"grid":false,"title":null}}}}
 ],
 "resolve":{"axis":{"x":"independent","y":"independent"}}
},
{
 "width":1042,"height":335,
 "title":{"text":"Uncertainties","offset":-17},
 "layer":[
  {"data":{"name":"uncR"},"mark":{"type":"area","stroke":"black","strokeWidth":1.5,"opacity":1},
   "encoding":{
    "x":{"field":"t","type":"quantitative","scale":{"domain":[2005,2095],"nice":false,"zero":false},"axis":{"values":[2010,2020,2030,2040,2050,2060,2070,2080,2090],"format":"d","title":null}},
    "y":{"field":"hi","type":"quantitative","stack":null,"scale":{"domain":[0,100],"nice":false},"axis":{"values":[0,20,40,60,80,100],"format":"d","title":"Sv²","titleX":-73}},
    "y2":{"field":"lo"},
    "color":{"field":"c","type":"nominal","scale":{"domain":["Model Uncertainty","Scenario Uncertainty","Internal Variability"],"range":["#233CFF","#66FF00","#FF0000"]},
     "legend":{"orient":"none","legendX":15,"legendY":13,"title":null,"symbolType":"M-1.956,-0.933H1.956V0.933H-1.956Z","symbolSize":2025,"symbolStrokeColor":"black","symbolStrokeWidth":1.5,"symbolOpacity":1,"symbolOffset":29.5,"rowPadding":6,"padding":9,"labelOffset":26,"labelFontSize":45}}}},
  {"data":{"values":[{}]},"mark":{"type":"rule","opacity":0},
   "encoding":{
    "x":{"datum":2005,"type":"quantitative","scale":{"domain":[2005,2095],"nice":false,"zero":false},"axis":{"orient":"top","values":[2010,2020,2030,2040,2050,2060,2070,2080,2090],"labels":false,"grid":false,"title":null}},
    "x2":{"datum":2095},
    "y":{"datum":0,"type":"quantitative","scale":{"domain":[0,100],"nice":false},"axis":{"orient":"right","values":[0,20,40,60,80,100],"labels":false,"grid":false,"title":null}}}}
 ],
 "resolve":{"axis":{"x":"independent","y":"independent"}}
},
{
 "width":1042,"height":195,
 "title":{"text":"Signal−to−noise ratio (90%−confidence level)","offset":-17},
 "layer":[
  {"data":{"values":[{}]},"mark":{"type":"rule","color":"black","strokeWidth":2.5},
   "encoding":{
    "x":{"datum":2005,"type":"quantitative","scale":{"domain":[2005,2095],"nice":false,"zero":false},"axis":{"orient":"top","values":[2010,2020,2030,2040,2050,2060,2070,2080,2090],"labels":false,"grid":false,"title":null}},
    "x2":{"datum":2095},
    "y":{"datum":1,"type":"quantitative","scale":{"domain":[0,1.5],"nice":false},"axis":{"orient":"right","values":[0,0.5,1,1.5],"labels":false,"grid":false,"title":null}}}},
  {"data":{"name":"snrL"},"mark":{"type":"line","color":"black","strokeWidth":7},
   "encoding":{
    "x":{"field":"t","type":"quantitative","scale":{"domain":[2005,2095],"nice":false,"zero":false},"axis":{"values":[2010,2020,2030,2040,2050,2060,2070,2080,2090],"format":"d","title":null}},
    "y":{"field":"v","type":"quantitative","scale":{"domain":[0,1.5],"nice":false},"axis":{"values":[0,0.5,1,1.5],"format":"~g","title":null}}}}
 ],
 "resolve":{"axis":{"x":"independent","y":"independent"}}
},
{
 "width":1042,"height":195,
 "title":{"text":"Signal−to−noise ratio (90%−confidence level)","offset":-17},
 "layer":[
  {"data":{"values":[{}]},"mark":{"type":"rule","color":"black","strokeWidth":2.5},
   "encoding":{
    "x":{"datum":2005,"type":"quantitative","scale":{"domain":[2005,2095],"nice":false,"zero":false},"axis":{"orient":"top","values":[2010,2020,2030,2040,2050,2060,2070,2080,2090],"labels":false,"grid":false,"title":null}},
    "x2":{"datum":2095},
    "y":{"datum":1,"type":"quantitative","scale":{"domain":[0,1.5],"nice":false},"axis":{"orient":"right","values":[0,0.5,1,1.5],"labels":false,"grid":false,"title":null}}}},
  {"data":{"name":"snrR"},"mark":{"type":"line","color":"black","strokeWidth":7},
   "encoding":{
    "x":{"field":"t","type":"quantitative","scale":{"domain":[2005,2095],"nice":false,"zero":false},"axis":{"values":[2010,2020,2030,2040,2050,2060,2070,2080,2090],"format":"d","title":null}},
    "y":{"field":"v","type":"quantitative","scale":{"domain":[0,1.5],"nice":false},"axis":{"values":[0,0.5,1,1.5],"format":"~g","title":null}}}}
 ],
 "resolve":{"axis":{"x":"independent","y":"independent"}}
}
]
}
